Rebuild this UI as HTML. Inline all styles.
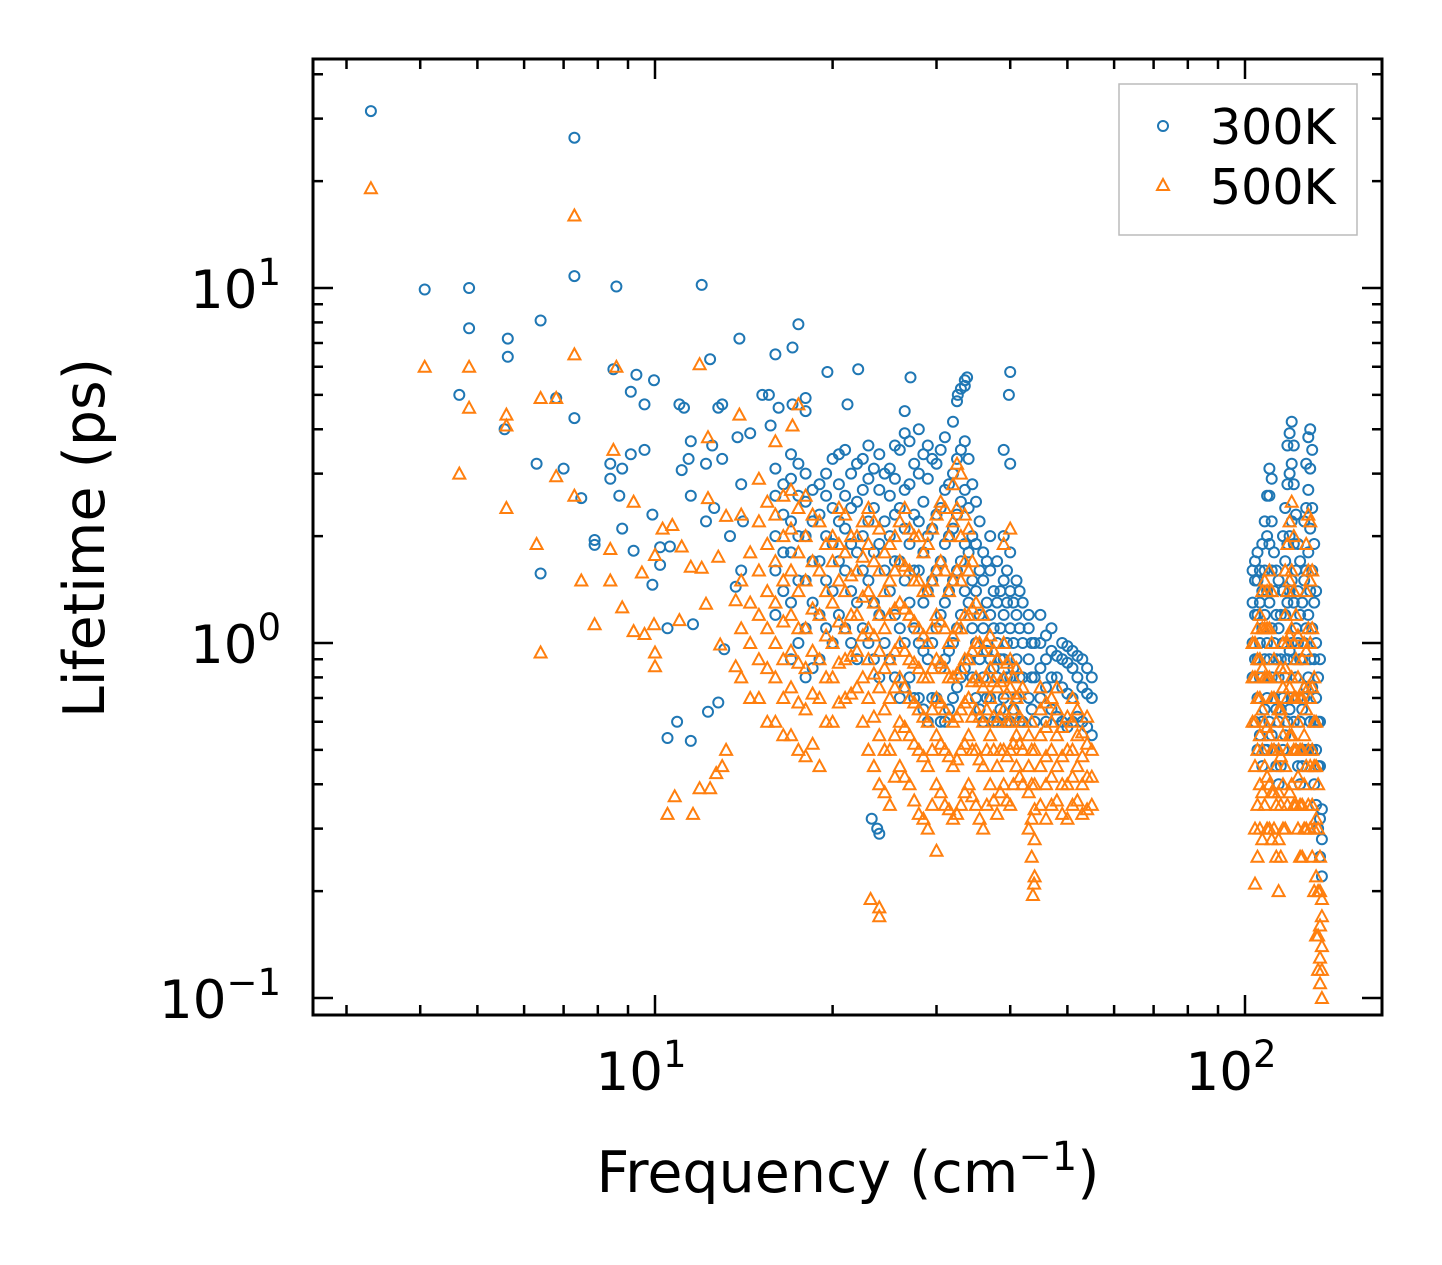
<!DOCTYPE html>
<html><head><meta charset="utf-8"><style>
html,body{margin:0;padding:0;background:#fff;}
svg{display:block;font-family:"DejaVu Sans","Liberation Sans",sans-serif;}
</style></head><body>
<svg id="chart" width="1442" height="1265" viewBox="0 0 1442 1265" xmlns="http://www.w3.org/2000/svg">
<rect x="0" y="0" width="1442" height="1265" fill="#fff"/>
<g id="marks300"></g>
<g id="marks500"></g>
<g id="axes"></g>
<rect x="313" y="59" width="1069" height="956" fill="none" stroke="#000" stroke-width="3"/>
<text x="848" y="1192" font-size="57" text-anchor="middle">Frequency (cm<tspan dy="-22" font-size="40">−1</tspan><tspan dy="22">)</tspan></text>
<text transform="translate(104,538) rotate(-90)" font-size="57" text-anchor="middle">Lifetime (ps)</text>
<g>
<rect x="1119" y="84" width="238" height="151" fill="#fff" stroke="#bbb" stroke-width="1.5"/>
<circle cx="1163" cy="126" r="5" fill="none" stroke="#1f77b4" stroke-width="2"/>
<text x="1210" y="144" font-size="49">300K</text>
<polygon points="1163,179 1169,190 1157,190" fill="none" stroke="#ff7f0e" stroke-width="2"/>
<text x="1210" y="204" font-size="49">500K</text>
</g>
</svg>
<script>
const xMajorTicks = [10, 100];
const xMajorLabels = ["1", "2"];
const xMinorTicks = [3,4,5,6,7,8,9,20,30,40,50,60,70,80,90];
const yMajorTicks = [0.1, 1, 10];
const yMajorLabels = ["−1", "0", "1"];
const yMinorTicks = [0.2,0.3,0.4,0.5,0.6,0.7,0.8,0.9,2,3,4,5,6,7,8,9,20,30,40];

const iso300 = [[3.3,31.5],[4.07,9.9],[4.84,10.0],[4.84,7.7],[5.63,7.2],[5.63,6.4],[6.4,8.1],[7.3,26.5],[7.3,10.8],[8.6,10.1],[12.0,10.2],[13.9,7.2],[12.4,6.3],[17.5,7.9],[17.1,6.8],[16.0,6.5],[4.66,5.0],[5.56,4.0],[6.8,4.9],[7.3,4.3],[8.5,5.9],[9.3,5.7],[9.96,5.5],[9.1,5.1],[9.6,4.7],[11.0,4.7],[11.2,4.6],[12.8,4.6],[13.0,4.7],[15.2,5.0],[15.6,5.0],[16.2,4.6],[17.1,4.7],[18.0,4.9],[18.0,4.5],[19.6,5.8],[22.1,5.9],[21.2,4.7],[27.1,5.6],[26.5,4.5],[33.5,5.3],[33.8,5.6],[32.6,5.0],[40.0,5.8],[39.8,5.0],[6.3,3.2],[7.0,3.1],[7.5,2.56],[8.4,3.2],[8.4,2.9],[8.8,3.1],[9.6,3.5],[9.1,3.4],[8.7,2.6],[7.9,1.89],[7.9,1.95],[8.8,2.1],[9.2,1.82],[9.9,2.3],[10.2,1.86],[9.9,1.46],[10.2,1.66],[10.6,1.87],[11.1,3.07],[11.4,3.3],[11.5,3.7],[12.2,3.2],[12.5,3.6],[13.0,3.3],[13.8,3.8],[14.0,2.8],[14.5,3.9],[11.5,2.6],[12.2,2.2],[12.6,2.4],[13.4,2.0],[14.1,2.2],[15.7,4.1],[6.4,1.57],[10.5,1.1],[11.6,1.13],[10.5,0.54],[10.9,0.6],[11.5,0.53],[12.3,0.64],[12.8,0.68],[13.1,0.96],[13.7,1.44],[14.0,1.6],[23.3,0.32],[24.0,0.29],[23.8,0.30]];
const cols300 = [
[16,[1.2,1.6,2.0,2.6,3.1]],[17,[0.9,1.3,1.8,2.2,2.9,3.4]],[18,[0.8,1.1,1.5,2.0,2.5,3.0]],[19,[0.9,1.2,1.7,2.3,2.8]],
[20,[1.0,1.4,1.9,2.4,3.3]],[21,[1.1,1.6,2.1,2.6,3.5]],[22,[0.9,1.3,1.8,2.5,3.2]],[23,[1.0,1.5,2.2,2.9,3.6]],
[24,[0.8,1.2,1.9,2.7,3.4]],[25,[0.9,1.4,2.0,2.6,3.1]],[26,[0.7,1.1,1.7,2.4,3.5]],[27,[0.8,1.3,1.9,2.8,3.7]],
[28,[0.7,1.0,1.6,2.2,3.0,4.0]],[29,[0.6,0.9,1.4,2.0,2.9,3.6]],[30,[0.7,1.1,1.6,2.3,3.2]],[31,[0.6,0.9,1.3,1.9,2.7,3.8]],
[32,[0.7,1.0,1.5,2.1,3.0,4.2]],[33,[0.8,1.2,1.7,2.5,3.5,5.2]],[34,[0.9,1.3,1.8,2.4,3.3]],[35,[0.7,1.0,1.4,1.9,2.5]],
[36,[0.6,0.8,1.1,1.5,1.8]],[37,[0.7,0.9,1.2,1.6,2.0]],[38,[0.6,0.8,1.0,1.3,1.7]],[39,[0.7,0.9,1.2,1.5,2.0,3.5]],
[40,[0.6,0.8,1.1,1.4,1.8,3.2]],[41,[0.7,0.9,1.2,1.5]],[42,[0.6,0.8,1.0,1.3]],[43,[0.7,0.9,1.1,1.2]],
[44,[0.6,0.8,1.0]],[45,[0.7,0.85,1.0,1.2]],[47,[0.65,0.8,0.95,1.1]],[49,[0.6,0.75,0.9,1.0]],
[51,[0.6,0.7,0.85,0.95]],[53,[0.6,0.75,0.9]],[55,[0.55,0.7,0.8]],
[103,[0.8,1.0,1.3,1.6]],[105,[0.5,0.7,0.9,1.2,1.5,1.8]],[107,[0.45,0.6,0.8,1.1,1.4,1.9]],[109,[0.5,0.7,1.0,1.4,2.0,2.6]],
[110,[0.6,0.9,1.3,1.9,2.6,3.1]],[112,[0.5,0.7,1.0,1.4,1.8]],[114,[0.4,0.6,0.8,1.1,1.5]],[116,[0.5,0.7,1.0,1.4,2.0]],
[118,[0.6,0.9,1.3,1.9,2.8,3.6]],[120,[0.7,1.0,1.5,2.2,3.2,4.2]],[122,[0.5,0.8,1.1,1.6,2.3]],[124,[0.4,0.6,0.9,1.2,1.7]],
[126,[0.5,0.7,1.0,1.5,2.2]],[128,[0.5,0.8,1.2,1.8,2.7,3.8]],[129,[0.6,0.9,1.4,2.1,3.1,4.0]],[131,[0.4,0.6,0.9,1.3,1.9]],
[133,[0.3,0.45,0.6,0.8]],[135,[0.22,0.28,0.34]]];
const cols300b = [
[16.5,[1.4,1.8,2.3,2.8]],[17.5,[1.0,1.5,2.0,2.6,3.2]],[18.5,[0.85,1.3,1.7,2.2,2.7]],[19.5,[1.1,1.5,2.0,2.6,3.0]],
[20.5,[1.2,1.7,2.2,2.8,3.4]],[21.5,[1.0,1.4,1.9,2.4,3.0]],[22.5,[1.1,1.6,2.0,2.7,3.3]],[23.5,[0.9,1.3,1.8,2.4,3.1]],
[24.5,[1.0,1.6,2.2,3.0]],[25.5,[0.8,1.2,1.7,2.3,2.9,3.6]],[26.5,[0.75,1.0,1.5,2.1,2.7,3.9]],[27.5,[0.7,1.1,1.6,2.3,3.2]],
[28.5,[0.65,0.95,1.3,1.8,2.5,3.4]],[29.5,[0.7,1.0,1.5,2.1,3.3]],[30.5,[0.6,0.85,1.2,1.7,2.4,3.5]],[31.5,[0.65,0.95,1.4,2.0,2.8]],
[32.5,[0.75,1.1,1.6,2.3,3.3,4.8]],[33.5,[0.85,1.4,1.9,2.7,3.7,5.5]],[34.5,[0.8,1.1,1.5,2.0,2.8]],[35.5,[0.65,0.9,1.2,1.6,2.2]],
[36.5,[0.7,0.95,1.3,1.7]],[37.5,[0.6,0.85,1.1,1.4]],[38.5,[0.65,0.9,1.1,1.4]],[39.5,[0.6,0.8,1.0,1.3,1.6]],
[40.5,[0.65,0.85,1.0,1.3]],[41.5,[0.6,0.8,1.1,1.4]],[43.5,[0.65,0.8,1.0]],[46,[0.6,0.75,0.9,1.05]],
[48,[0.62,0.8,0.92]],[50,[0.58,0.72,0.88,0.98]],[52,[0.62,0.8,0.92]],[54,[0.58,0.72,0.85]],
[104,[0.6,0.9,1.2,1.5,1.7]],[106,[0.55,0.8,1.0,1.3,1.6]],[108,[0.5,0.65,0.9,1.2,1.6,2.2]],[111,[0.55,0.8,1.1,1.6,2.2,2.9]],
[113,[0.45,0.65,0.9,1.2,1.6]],[115,[0.45,0.65,0.9,1.2]],[117,[0.55,0.8,1.2,1.7,2.4]],[119,[0.65,0.95,1.4,2.0,3.0,3.9]],
[121,[0.6,0.9,1.3,1.9,2.8,3.6]],[123,[0.45,0.7,1.0,1.4,1.9]],[125,[0.45,0.65,0.9,1.3]],[127,[0.5,0.75,1.1,1.6,2.4,3.2]],
[130,[0.5,0.75,1.1,1.6,2.4,3.5]],[132,[0.35,0.5,0.7,1.0,1.4]],[134,[0.25,0.32,0.45,0.6,0.9]]];

const iso500 = [[3.3,19.1],[7.3,16.0],[7.3,6.5],[4.07,6.0],[4.84,6.0],[4.84,4.6],[4.66,3.0],[5.6,2.4],[5.6,4.4],[5.6,4.1],[6.4,4.9],[6.8,4.9],[8.6,6.0],[11.9,6.1],[13.9,4.4],[17.5,4.7],[17.1,4.1],[16.0,3.7],[7.3,2.6],[6.8,2.95],[6.3,1.9],[7.5,1.5],[8.4,1.5],[8.4,1.84],[8.5,3.5],[7.9,1.13],[9.2,1.08],[8.8,1.26],[9.2,2.5],[9.5,1.58],[10.0,1.77],[10.3,2.1],[10.7,2.15],[11.1,1.87],[11.5,1.64],[12.0,1.63],[12.3,2.56],[12.3,3.8],[12.8,1.75],[13.2,2.28],[10.0,0.86],[9.96,1.13],[9.6,1.06],[10.0,0.94],[6.4,0.94],[11.0,1.16],[12.2,1.29],[12.9,0.99],[13.7,1.32],[13.7,0.86],[10.5,0.33],[10.8,0.37],[11.6,0.33],[11.9,0.39],[12.4,0.39],[12.7,0.43],[13.0,0.45],[13.2,0.5],[23.2,0.19],[24.0,0.18],[24.0,0.17],[30,0.26],[43.9,0.21],[43.7,0.195]];
const cols500 = [
[14,[0.8,1.1,1.5,2.3]],[15,[0.7,0.9,1.2,1.6,2.2,2.9]],[16,[0.6,0.8,1.0,1.3,1.7,2.3]],[17,[0.55,0.75,0.95,1.2,1.6,2.1,2.7]],
[18,[0.48,0.65,0.85,1.1,1.5,2.0,2.6]],[19,[0.45,0.7,0.9,1.2,1.6,2.2]],[20,[0.6,0.8,1.0,1.3,1.7,2.0]],[21,[0.7,0.9,1.1,1.4,1.8,2.3]],
[22,[0.75,0.95,1.2,1.6,2.0]],[23,[0.5,0.7,0.9,1.1,1.4,1.9,2.4]],[24,[0.4,0.55,0.75,0.95,1.2,1.6,2.1]],[25,[0.35,0.5,0.7,0.9,1.2,1.5,1.9]],
[26,[0.45,0.6,0.8,1.0,1.3,1.7,2.2]],[27,[0.4,0.55,0.7,0.9,1.2,1.6,2.1]],[28,[0.33,0.5,0.65,0.85,1.1,1.5,2.0]],[29,[0.3,0.45,0.6,0.8,1.0,1.4,1.9]],
[30,[0.4,0.55,0.7,0.9,1.2,1.6,2.3]],[31,[0.35,0.5,0.65,0.85,1.1,1.6,2.4]],[32,[0.32,0.45,0.6,0.8,1.05,1.5,2.2,2.8]],[33,[0.35,0.5,0.65,0.85,1.1,1.5,2.0,3.0]],
[34,[0.4,0.55,0.7,0.9,1.2,1.6,2.1]],[35,[0.35,0.5,0.65,0.8,1.0,1.3]],[36,[0.3,0.45,0.6,0.75,0.95,1.2]],[37,[0.4,0.55,0.7,0.85,1.05]],
[38,[0.33,0.45,0.6,0.75,0.9]],[39,[0.4,0.5,0.65,0.8,1.0,1.9]],[40,[0.35,0.5,0.6,0.75,0.9,2.1]],[41,[0.45,0.55,0.7,0.85]],
[42,[0.4,0.5,0.6,0.75]],[43,[0.3,0.38,0.45,0.55]],[44,[0.22,0.28,0.34,0.4,0.5]],[45,[0.35,0.45,0.55,0.65,0.75]],
[47,[0.35,0.42,0.5,0.6,0.7]],[49,[0.33,0.4,0.48,0.58]],[51,[0.35,0.42,0.5,0.6,0.7]],[53,[0.33,0.4,0.48,0.56]],[55,[0.35,0.42,0.5]],
[103,[0.6,0.8,1.0]],[104,[0.21,0.3,0.45,0.6,0.8,1.0]],[106,[0.3,0.4,0.55,0.7,0.9,1.2]],[108,[0.35,0.45,0.6,0.8,1.1,1.5]],
[110,[0.3,0.4,0.55,0.8,1.1,1.6]],[112,[0.3,0.38,0.5,0.7,0.9]],[114,[0.2,0.28,0.38,0.5,0.65]],[116,[0.3,0.4,0.55,0.75,1.0]],
[118,[0.35,0.5,0.7,1.0,1.4,1.9]],[120,[0.4,0.55,0.8,1.1,1.6,2.5]],[122,[0.35,0.5,0.7,0.9,1.2]],[124,[0.25,0.35,0.5,0.7]],
[126,[0.3,0.4,0.55,0.75,1.0]],[128,[0.35,0.5,0.75,1.1,1.6,2.3]],[129,[0.3,0.45,0.7,1.0,1.5,2.2]],[131,[0.2,0.3,0.45,0.6,0.8]],
[133,[0.12,0.15,0.2,0.3,0.4]],[135,[0.1,0.12,0.14,0.17,0.19]]];
const cols500b = [
[14.5,[0.7,1.0,1.3,1.8]],[15.5,[0.6,0.85,1.1,1.4,1.9,2.5]],[16.5,[0.55,0.7,0.9,1.15,1.5,2.0,2.6]],[17.5,[0.5,0.68,0.88,1.1,1.4,1.8,2.4]],
[18.5,[0.52,0.72,0.95,1.25,1.7,2.3]],[19.5,[0.6,0.8,1.05,1.4,1.9]],[20.5,[0.68,0.88,1.15,1.5,1.9,2.4]],[21.5,[0.72,0.92,1.2,1.55,2.0]],
[22.5,[0.6,0.8,1.05,1.35,1.75,2.2]],[23.5,[0.45,0.62,0.82,1.05,1.3,1.7,2.2]],[24.5,[0.38,0.5,0.65,0.85,1.1,1.4,1.8]],[25.5,[0.42,0.55,0.75,0.95,1.25,1.6,2.0]],
[26.5,[0.42,0.58,0.75,0.95,1.25,1.65,2.4]],[27.5,[0.36,0.52,0.68,0.88,1.15,1.5,2.0]],[28.5,[0.32,0.48,0.62,0.8,1.05,1.4,1.8]],[29.5,[0.35,0.5,0.65,0.85,1.1,1.5,2.1]],
[30.5,[0.38,0.52,0.68,0.88,1.15,1.7,2.5]],[31.5,[0.34,0.48,0.62,0.8,1.0,1.4,2.0]],[32.5,[0.33,0.47,0.62,0.82,1.1,1.6,2.4,3.2]],[33.5,[0.38,0.52,0.68,0.9,1.2,1.7,2.3]],
[34.5,[0.37,0.5,0.62,0.78,0.95,1.25,1.7]],[35.5,[0.32,0.47,0.62,0.78,1.0]],[36.5,[0.35,0.5,0.65,0.8,1.0]],[37.5,[0.36,0.5,0.62,0.78,0.95]],
[38.5,[0.38,0.5,0.62,0.78]],[39.5,[0.36,0.48,0.6,0.72,0.88]],[40.5,[0.4,0.52,0.65,0.8]],[41.5,[0.42,0.52,0.62,0.72]],
[43.5,[0.25,0.32,0.4,0.5,0.6]],[46,[0.32,0.4,0.48,0.58,0.68]],[48,[0.36,0.45,0.55,0.65,0.75]],[50,[0.32,0.4,0.5,0.62]],
[52,[0.36,0.45,0.55,0.65]],[54,[0.34,0.42,0.52,0.62]],
[105,[0.25,0.35,0.5,0.7,0.9,1.1]],[107,[0.28,0.38,0.5,0.65,0.85,1.1,1.4]],[109,[0.3,0.42,0.58,0.8,1.1,1.4]],[111,[0.28,0.38,0.5,0.7,1.0,1.4]],
[113,[0.25,0.35,0.45,0.6,0.8]],[115,[0.25,0.35,0.48,0.65,0.85]],[117,[0.3,0.45,0.6,0.85,1.2,1.6]],[119,[0.38,0.55,0.75,1.05,1.5,2.2]],
[121,[0.35,0.5,0.7,1.0,1.4,2.0]],[123,[0.3,0.42,0.6,0.8,1.05]],[125,[0.25,0.35,0.5,0.7,0.9]],[127,[0.3,0.45,0.65,0.95,1.4,1.9]],
[130,[0.25,0.35,0.5,0.75,1.1,1.6]],[132,[0.15,0.22,0.32,0.45,0.6]],[134,[0.11,0.13,0.16,0.2,0.25]]];

const NS = "http://www.w3.org/2000/svg";
const X0 = 313, X1 = 1382, Y0 = 59, Y1 = 1015;
function xScale(f){ return 655 + 590 * (Math.log10(f) - 1); }
function yScale(t){ return 643 - 355 * Math.log10(t); }
function mk(tag, attrs, parent){ const e = document.createElementNS(NS, tag); for (const k in attrs) e.setAttribute(k, attrs[k]); parent.appendChild(e); return e; }
function expand(iso, colsA, colsB){ const pts = iso.slice(); colsA.concat(colsB).forEach(c => c[1].forEach(t => pts.push([c[0], t]))); return pts; }

const g3 = document.getElementById('marks300');
expand(iso300, cols300, cols300b).forEach(p => {
  const c = mk('circle', {cx: xScale(p[0]).toFixed(1), cy: yScale(p[1]).toFixed(1), r: 5, fill: 'none', stroke: '#1f77b4', 'stroke-width': 2}, g3);
  
  
});
const g5 = document.getElementById('marks500');
expand(iso500, cols500, cols500b).forEach(p => {
  const x = xScale(p[0]), y = yScale(p[1]);
  const t = mk('polygon', {points: `${x.toFixed(1)},${(y-6).toFixed(1)} ${(x+6).toFixed(1)},${(y+5).toFixed(1)} ${(x-6).toFixed(1)},${(y+5).toFixed(1)}`, fill: 'none', stroke: '#ff7f0e', 'stroke-width': 2}, g5);
  
  
});

const ax = document.getElementById('axes');
function tickX(f, len){
  const x = xScale(f);
  const a = mk('line', {x1: x, x2: x, y1: Y1, y2: Y1 - len, stroke: '#000', 'stroke-width': 2.5}, ax);
  
  
  const b = mk('line', {x1: x, x2: x, y1: Y0, y2: Y0 + len, stroke: '#000', 'stroke-width': 2.5}, ax);
  
  
}
function tickY(v, len){
  const y = yScale(v);
  const a = mk('line', {x1: X0, x2: X0 + len, y1: y, y2: y, stroke: '#000', 'stroke-width': 2.5}, ax);
  
  
  const b = mk('line', {x1: X1, x2: X1 - len, y1: y, y2: y, stroke: '#000', 'stroke-width': 2.5}, ax);
  
  
}
xMinorTicks.forEach(f => tickX(f, 10));
yMinorTicks.forEach(v => tickY(v, 10));
xMajorTicks.forEach((f, i) => {
  tickX(f, 20);
  const t = mk('text', {x: xScale(f) - 14, y: 1090, 'font-size': 53, 'text-anchor': 'middle'}, ax);
  
  
  t.innerHTML = `10<tspan dy="-23" font-size="37">${xMajorLabels[i]}</tspan>`;
});
yMajorTicks.forEach((v, i) => {
  tickY(v, 20);
  const t = mk('text', {x: 281, y: yScale(v) + 20, 'font-size': 53, 'text-anchor': 'end'}, ax);
  
  
  t.innerHTML = `10<tspan dy="-23" font-size="37">${yMajorLabels[i]}</tspan>`;
});
</script>
</body></html>
